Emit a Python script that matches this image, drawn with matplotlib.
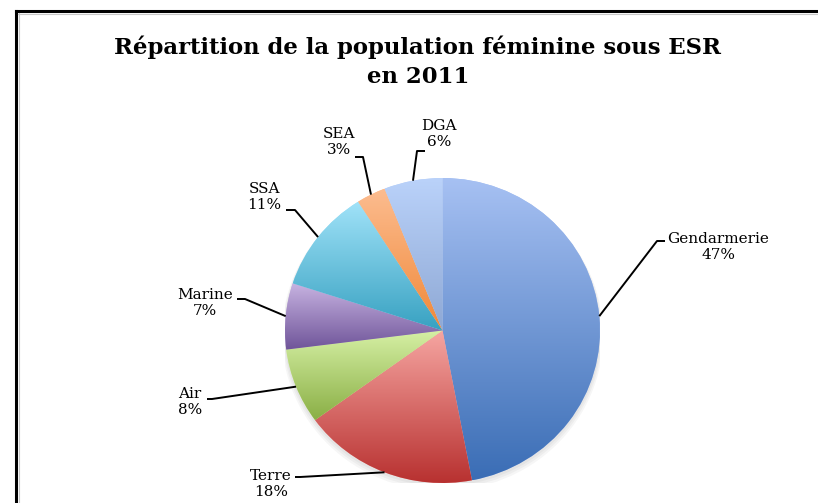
import numpy as np
import matplotlib
matplotlib.use("Agg")
import matplotlib.pyplot as plt
from matplotlib.colors import LinearSegmentedColormap
from matplotlib.lines import Line2D

# data
categories = ["Gendarmerie", "Terre", "Air", "Marine", "SSA", "SEA", "DGA"]
values = [47, 18, 8, 7, 11, 3, 6]
pct_labels = ["47%", "18%", "8%", "7%", "11%", "3%", "6%"]

# top / bottom colours of each slice gradient
top_colors = ["#a7c1f3", "#f6a6a2", "#d6f0a5", "#c7b3e1", "#a0e2f8", "#fcbc8f", "#bad2fa"]
bottom_colors = ["#3a6db5", "#b83130", "#8aaf45", "#6f5499", "#37a1c1", "#f08838", "#8ea8d4"]

W, H = 818, 503
CX, CY, RX, RY = 442.5, 330.5, 157.5, 152.5

# label layout in pixels: text centre, elbow of the leader line, stub end
label_pos = {
    "Gendarmerie": ((718, 247), (657, 241), (665, 241)),
    "Terre": ((271, 484), (300, 477), (295, 477)),
    "Air": ((190, 402), (212, 399), (207, 399)),
    "Marine": ((205, 303), (245, 299), (237, 299)),
    "SSA": ((264, 197), (295, 210), (286, 210)),
    "SEA": ((339, 142), (363, 157), (355, 157)),
    "DGA": ((439, 134), (417, 151), (425, 151)),
}


def px(x, y):
    return (x - CX) / RX, (CY - y) / RY


fig = plt.figure(figsize=(W / 100, H / 100), dpi=100)
ax = fig.add_axes([(CX - RX) / W, (H - CY - RY) / H, 2 * RX / W, 2 * RY / H])

# soft shadow below the pie
for i in range(3):
    sh = matplotlib.patches.Ellipse((0.0, -0.015 - 0.008 * i), 2.01 + 0.015 * i, 2.01 + 0.015 * i,
                                    facecolor="black", edgecolor="none", alpha=0.035, zorder=0)
    ax.add_patch(sh)

wedges, _ = ax.pie(values, startangle=90, counterclock=False, radius=1,
                   wedgeprops=dict(linewidth=0, edgecolor="none"))

grad = np.linspace(0, 1, 256).reshape(-1, 1)
for w, c1, c2 in zip(wedges, top_colors, bottom_colors):
    w.set_facecolor(c1)
    ext = w.get_path().get_extents(w.get_patch_transform())
    cmap = LinearSegmentedColormap.from_list("g", [c1, c2])
    im = ax.imshow(grad, cmap=cmap, aspect="auto", origin="upper",
                   extent=[ext.x0, ext.x1, ext.y0, ext.y1], zorder=2, interpolation="bilinear")
    im.set_clip_path(w)

ax.set_aspect("auto")
ax.set_xlim(-1, 1)
ax.set_ylim(-1, 1)
ax.axis("off")

# labels with leader lines
for w, name, pct in zip(wedges, categories, pct_labels):
    mid = np.deg2rad((w.theta1 + w.theta2) / 2)
    x0, y0 = np.cos(mid), np.sin(mid)
    (tx, ty), (ex, ey), (sx, sy) = label_pos[name]
    ex, ey = px(ex, ey)
    sx, sy = px(sx, sy)
    ax.plot([x0, ex, sx], [y0, ey, sy], color="black", lw=1.4, clip_on=False,
            solid_capstyle="butt", zorder=3)
    tx, ty = px(tx, ty)
    ax.text(tx, ty, f"{name}\n{pct}", ha="center", va="center", fontsize=11,
            family="DejaVu Serif", linespacing=1.25, clip_on=False, zorder=4)

fig.text(418 / W, 1 - 62 / H, "Répartition de la population féminine sous ESR\nen 2011",
         ha="center", va="center", fontsize=16.4, fontweight="bold",
         family="DejaVu Serif", linespacing=1.4)

# chart frame (only top and left edges visible)
fig.add_artist(Line2D([16 / W, 16 / W], [0, 1 - 11 / H], transform=fig.transFigure,
                      color="black", lw=2.2))
fig.add_artist(Line2D([16 / W, 1], [1 - 11 / H, 1 - 11 / H], transform=fig.transFigure,
                      color="black", lw=2.2))
fig.add_artist(Line2D([18.5 / W, 18.5 / W], [0, 1 - 13 / H], transform=fig.transFigure,
                      color="#c8c8c8", lw=0.8))
fig.add_artist(Line2D([18 / W, 1], [1 - 13.5 / H, 1 - 13.5 / H], transform=fig.transFigure,
                      color="#c8c8c8", lw=0.8))

fig.savefig("out.png", dpi=100)
